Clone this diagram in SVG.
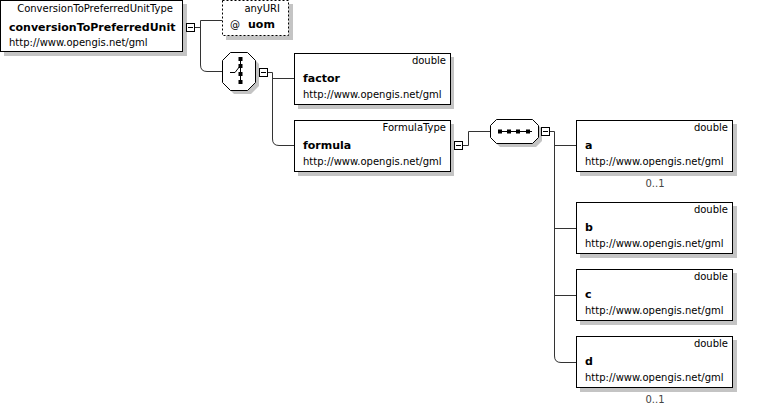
<svg xmlns="http://www.w3.org/2000/svg" width="774" height="409" viewBox="0 0 774 409">
<defs>
<style>
text{font-family:"DejaVu Sans","Liberation Sans",sans-serif;fill:#000}
.t{font-size:10px;text-anchor:end}
.n{font-size:11px;font-weight:bold}
.u{font-size:10px}
.o{font-size:10px;text-anchor:middle;fill:#444}
.box{fill:#fff;stroke:#000;stroke-width:1}
.sh{fill:#c4c4c4}
.attr{fill:#fff;stroke:#000;stroke-width:1;stroke-dasharray:2,2}
.con{fill:none;stroke:#333;stroke-width:1}
.mb{fill:#fff;stroke:#000;stroke-width:1}
.ml{stroke:#000;stroke-width:1}
.sym{stroke:#000;stroke-width:1;fill:none}
.sq{fill:#000}
</style>
</defs>
<rect width="774" height="409" fill="#fff"/>

<g id="connectors">
<path class="con" d="M194.5,27.5 H200.5 M200.5,20.5 H222 M200.5,20.5 V65 Q200.5,71.5 207,71.5 H222"/>
<path class="con" d="M267.5,72.5 H272.5 V139 Q272.5,145.5 279,145.5 H294 M272.5,78.5 H294"/>
<path class="con" d="M462.5,145.5 H468.5 V131.5 H490"/>
<path class="con" d="M549.5,131.5 H554.5 V356 Q554.5,362.5 561,362.5 H576 M554.5,145.5 H576 M554.5,228.5 H576 M554.5,295.5 H576"/>
</g>

<g id="root">
<rect class="sh" x="4" y="4" width="183" height="52"/>
<rect class="box" x="0.5" y="0.5" width="182" height="51"/>
<text class="t" x="173" y="12">ConversionToPreferredUnitType</text>
<text class="n" x="9" y="31">conversionToPreferredUnit</text>
<text class="u" x="9" y="46">http://www.opengis.net/gml</text>
<rect class="mb" x="186.5" y="23.5" width="8" height="8"/>
<line class="ml" x1="188" y1="27.5" x2="193" y2="27.5"/>
</g>

<g id="attr-uom">
<rect class="sh" x="226" y="4" width="67" height="36"/>
<rect class="attr" x="222.5" y="0.5" width="66" height="35"/>
<text class="t" x="280" y="12">anyURI</text>
<text class="u" x="230" y="28">@</text>
<text class="n" x="248" y="28">uom</text>
</g>

<g id="choice">
<polygon class="sh" points="234,56 251,56 259,64 259,86 251,94 234,94 226,86 226,64"/>
<polygon class="box" points="230.5,52.5 247.5,52.5 255.5,60.5 255.5,82.5 247.5,90.5 230.5,90.5 222.5,82.5 222.5,60.5"/>
<line class="sym" x1="240.5" y1="57" x2="240.5" y2="84"/>
<path class="sym" d="M230,72.5 H235 L240,66"/>
<rect class="sq" x="238.5" y="57" width="4" height="4"/>
<rect class="sq" x="238.5" y="64" width="4" height="4"/>
<rect class="sq" x="238.5" y="72" width="4" height="4"/>
<rect class="sq" x="238.5" y="80" width="4" height="4"/>
<rect class="mb" x="259.5" y="68.5" width="8" height="8"/>
<line class="ml" x1="261" y1="72.5" x2="266" y2="72.5"/>
</g>

<g id="factor">
<rect class="sh" x="298" y="57" width="156" height="52"/>
<rect class="box" x="294.5" y="53.5" width="156" height="51"/>
<text class="t" x="446" y="64">double</text>
<text class="n" x="303" y="82">factor</text>
<text class="u" x="303" y="98">http://www.opengis.net/gml</text>
</g>

<g id="formula">
<rect class="sh" x="298" y="124" width="156" height="52"/>
<rect class="box" x="294.5" y="120.5" width="156" height="51"/>
<text class="t" x="446" y="131">FormulaType</text>
<text class="n" x="303" y="149">formula</text>
<text class="u" x="303" y="165">http://www.opengis.net/gml</text>
<rect class="mb" x="454.5" y="141.5" width="8" height="8"/>
<line class="ml" x1="456" y1="145.5" x2="461" y2="145.5"/>
</g>

<g id="sequence">
<polygon class="sh" points="500,123 536,123 542,129 542,141 536,147 500,147 494,141 494,129"/>
<polygon class="box" points="496.5,119.5 532.5,119.5 538.5,125.5 538.5,137.5 532.5,143.5 496.5,143.5 490.5,137.5 490.5,125.5"/>
<line class="sym" x1="498" y1="131.5" x2="532" y2="131.5"/>
<rect class="sq" x="498" y="129.5" width="4" height="4"/>
<rect class="sq" x="507" y="129.5" width="4" height="4"/>
<rect class="sq" x="516" y="129.5" width="4" height="4"/>
<rect class="sq" x="526" y="129.5" width="4" height="4"/>
<rect class="mb" x="541.5" y="127.5" width="8" height="8"/>
<line class="ml" x1="543" y1="131.5" x2="548" y2="131.5"/>
</g>

<g id="a">
<rect class="sh" x="580" y="124" width="157" height="52"/>
<rect class="box" x="576.5" y="120.5" width="156" height="51"/>
<text class="t" x="728" y="131">double</text>
<text class="n" x="585" y="149">a</text>
<text class="u" x="585" y="165">http://www.opengis.net/gml</text>
<text class="o" x="655" y="187">0..1</text>
</g>

<g id="b">
<rect class="sh" x="580" y="206" width="157" height="52"/>
<rect class="box" x="576.5" y="202.5" width="156" height="51"/>
<text class="t" x="728" y="213">double</text>
<text class="n" x="585" y="231">b</text>
<text class="u" x="585" y="247">http://www.opengis.net/gml</text>
</g>

<g id="c">
<rect class="sh" x="580" y="273" width="157" height="52"/>
<rect class="box" x="576.5" y="269.5" width="156" height="51"/>
<text class="t" x="728" y="280">double</text>
<text class="n" x="585" y="298">c</text>
<text class="u" x="585" y="314">http://www.opengis.net/gml</text>
</g>

<g id="d">
<rect class="sh" x="580" y="340" width="157" height="52"/>
<rect class="box" x="576.5" y="336.5" width="156" height="51"/>
<text class="t" x="728" y="347">double</text>
<text class="n" x="585" y="365">d</text>
<text class="u" x="585" y="381">http://www.opengis.net/gml</text>
<text class="o" x="655" y="403">0..1</text>
</g>
</svg>
